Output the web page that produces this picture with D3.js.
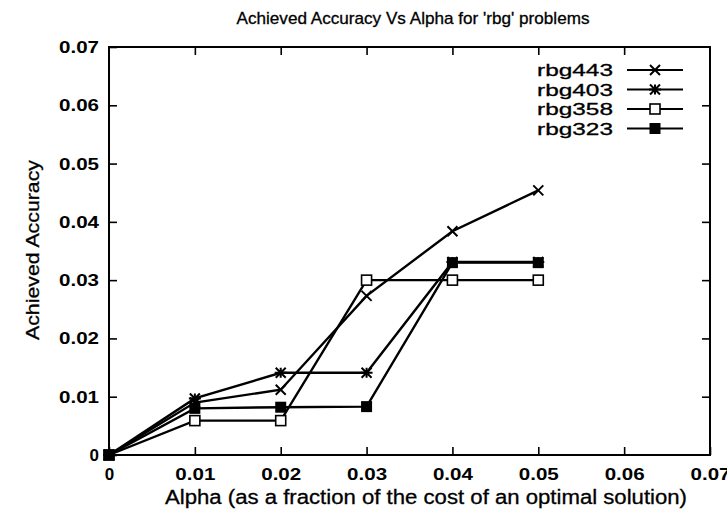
<!DOCTYPE html>
<html>
<head>
<meta charset="utf-8">
<script src="https://cdn.jsdelivr.net/npm/d3@7"></script>
<style>
  body { margin: 0; background: #fff; }
  svg { font-family: "Liberation Sans", Arial, sans-serif; }
</style>
</head>
<body>
<svg id="chart" width="727" height="523"></svg>
<script>
// Data
const alpha = [0, 0.01, 0.02, 0.03, 0.04, 0.05];
const rbg443 = [0, 0.0090, 0.0112, 0.0273, 0.0384, 0.0454];
const rbg403 = [0, 0.0097, 0.0141, 0.0141, 0.0331, 0.0331];
const rbg358 = [0, 0.0059, 0.0059, 0.0300, 0.0300, 0.0300];
const rbg323 = [0, 0.0080, 0.0082, 0.0083, 0.0330, 0.0330];
const seriesNames = ['rbg443', 'rbg403', 'rbg358', 'rbg323'];
const markerTypes = ['cross', 'star', 'openSquare', 'filledSquare'];
const xTicks = [0, 0.01, 0.02, 0.03, 0.04, 0.05, 0.06, 0.07];
const yTicks = [0, 0.01, 0.02, 0.03, 0.04, 0.05, 0.06, 0.07];

const series = [rbg443, rbg403, rbg358, rbg323].map((vals, i) => ({
  name: seriesNames[i],
  marker: markerTypes[i],
  points: vals.map((v, j) => ({ x: alpha[j], y: v }))
}));

const svg = d3.select('#chart');
const margin = { top: 47, right: 17, bottom: 68, left: 109 };
const width = 727, height = 523;

const x = d3.scaleLinear().domain([0, 0.07]).range([margin.left, width - margin.right]);
const y = d3.scaleLinear().domain([0, 0.07]).range([height - margin.bottom, margin.top]);

const fmt = d => d === 0 ? '0' : d3.format('.2f')(d);

// Frame
svg.append('rect')
  .attr('x', x(0)).attr('y', y(0.07))
  .attr('width', x(0.07) - x(0)).attr('height', y(0) - y(0.07))
  .attr('fill', 'none').attr('stroke', '#000').attr('stroke-width', 2);

// Axes with inward ticks
const tickLen = 8;
const axisStyle = g => {
  g.select('.domain').remove();
  g.selectAll('.tick line').attr('stroke', '#000').attr('stroke-width', 1.6);
  g.selectAll('.tick text')
    .attr('fill', '#000')
    .style('font-size', '17px')
    .style('font-weight', 'bold')
    .each(function(d) {
      if (d !== 0) d3.select(this).attr('textLength', 40).attr('lengthAdjust', 'spacingAndGlyphs');
    });
};

svg.append('g')
  .attr('transform', `translate(0,${y(0)})`)
  .call(d3.axisBottom(x).tickValues(xTicks).tickFormat(fmt).tickSizeInner(-tickLen).tickPadding(13))
  .call(axisStyle);

svg.append('g')
  .attr('transform', `translate(0,${y(0.07)})`)
  .call(d3.axisTop(x).tickValues(xTicks.slice(1, -1)).tickFormat('').tickSizeInner(-tickLen))
  .call(axisStyle);

svg.append('g')
  .attr('transform', `translate(${x(0)},0)`)
  .call(d3.axisLeft(y).tickValues(yTicks).tickFormat(fmt).tickSizeInner(-tickLen).tickPadding(10))
  .call(axisStyle);

svg.append('g')
  .attr('transform', `translate(${x(0.07)},0)`)
  .call(d3.axisRight(y).tickValues(yTicks.slice(1, -1)).tickFormat('').tickSizeInner(-tickLen))
  .call(axisStyle);

// Titles
svg.append('text')
  .attr('x', 413).attr('y', 24)
  .attr('text-anchor', 'middle')
  .attr('textLength', 353).attr('lengthAdjust', 'spacingAndGlyphs')
  .style('font-size', '17px')
  .attr('stroke', '#000').attr('stroke-width', 0.3)
  .text("Achieved Accuracy Vs Alpha for 'rbg' problems");

svg.append('text')
  .attr('x', 426).attr('y', 504)
  .attr('text-anchor', 'middle')
  .attr('textLength', 522).attr('lengthAdjust', 'spacingAndGlyphs')
  .style('font-size', '20px')
  .attr('stroke', '#000').attr('stroke-width', 0.3)
  .text('Alpha (as a fraction of the cost of an optimal solution)');

svg.append('text')
  .attr('transform', `translate(39,250) rotate(-90)`)
  .attr('text-anchor', 'middle')
  .attr('textLength', 180).attr('lengthAdjust', 'spacingAndGlyphs')
  .style('font-size', '19px')
  .attr('stroke', '#000').attr('stroke-width', 0.3)
  .text('Achieved Accuracy');

// Marker drawing
function drawMarker(g, type, cx, cy) {
  const s = 5;
  if (type === 'cross') {
    g.append('path')
      .attr('d', `M${cx - s},${cy - s}L${cx + s},${cy + s}M${cx - s},${cy + s}L${cx + s},${cy - s}`)
      .attr('stroke', '#000').attr('stroke-width', 2).attr('fill', 'none');
  } else if (type === 'star') {
    g.append('path')
      .attr('d', `M${cx - s},${cy - s}L${cx + s},${cy + s}M${cx - s},${cy + s}L${cx + s},${cy - s}M${cx - s - 1},${cy}L${cx + s + 1},${cy}M${cx},${cy - s}L${cx},${cy + s}`)
      .attr('stroke', '#000').attr('stroke-width', 2).attr('fill', 'none');
  } else if (type === 'openSquare') {
    g.append('rect')
      .attr('x', cx - 5).attr('y', cy - 5).attr('width', 10).attr('height', 10)
      .attr('fill', '#fff').attr('stroke', '#000').attr('stroke-width', 1.6);
  } else {
    g.append('rect')
      .attr('x', cx - 5.5).attr('y', cy - 5.5).attr('width', 11).attr('height', 11)
      .attr('fill', '#000');
  }
}

const line = d3.line().x(d => x(d.x)).y(d => y(d.y));

const plot = svg.append('g');
series.forEach(s => {
  plot.append('path')
    .datum(s.points)
    .attr('d', line)
    .attr('fill', 'none')
    .attr('stroke', '#000')
    .attr('stroke-width', 2.4);
});
series.forEach(s => {
  s.points.forEach(p => drawMarker(plot, s.marker, x(p.x), y(p.y)));
});

// Legend
const legend = svg.append('g');
series.forEach((s, i) => {
  const ly = 70 + i * 19.5;
  legend.append('text')
    .attr('x', 613).attr('y', ly + 6)
    .attr('text-anchor', 'end')
    .attr('textLength', 76).attr('lengthAdjust', 'spacingAndGlyphs')
    .style('font-size', '17px')
    .attr('stroke', '#000').attr('stroke-width', 0.3)
    .text(s.name);
  legend.append('line')
    .attr('x1', 627).attr('x2', 683).attr('y1', ly).attr('y2', ly)
    .attr('stroke', '#000').attr('stroke-width', 1.8);
  drawMarker(legend, s.marker, 655, ly);
});
</script>
</body>
</html>
